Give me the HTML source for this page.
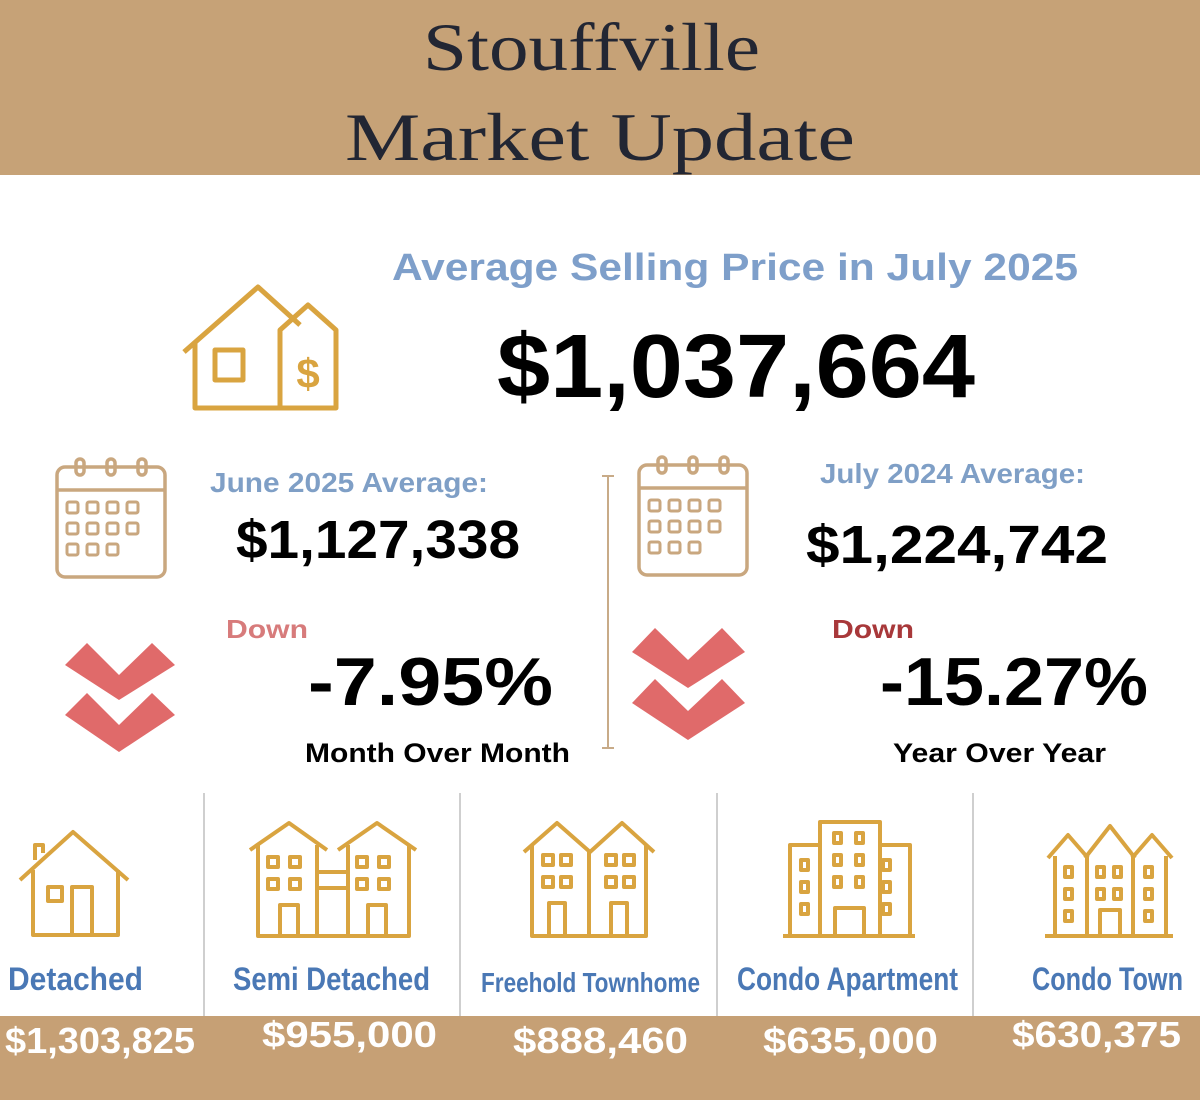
<!DOCTYPE html>
<html><head><meta charset="utf-8"><style>html,body{margin:0;padding:0;background:#fff}svg{display:block}</style></head>
<body>
<svg width="1200" height="1100" viewBox="0 0 1200 1100" xmlns="http://www.w3.org/2000/svg">
<rect width="1200" height="1100" fill="#fff"/>
<rect width="1200" height="175" fill="#c6a277"/>
<rect y="1016" width="1200" height="84" fill="#c6a075"/>
<g font-family="Liberation Serif, serif" fill="#222633" font-size="68">
<text x="423" y="70" textLength="337" lengthAdjust="spacingAndGlyphs">Stouffville</text>
<text x="345" y="160" textLength="510" lengthAdjust="spacingAndGlyphs">Market Update</text>
</g>
<g font-family="Liberation Sans, sans-serif" font-weight="bold">
<text x="392" y="280" font-size="38" fill="#7e9fca" textLength="686" lengthAdjust="spacingAndGlyphs">Average Selling Price in July 2025</text>
<text x="497" y="397" font-size="90" fill="#000" textLength="478" lengthAdjust="spacingAndGlyphs">$1,037,664</text>
<text x="210" y="492" font-size="28" fill="#7f9fc6" textLength="278" lengthAdjust="spacingAndGlyphs">June 2025 Average:</text>
<text x="236" y="558" font-size="54" fill="#000" textLength="284" lengthAdjust="spacingAndGlyphs">$1,127,338</text>
<text x="820" y="483" font-size="28" fill="#7f9fc6" textLength="265" lengthAdjust="spacingAndGlyphs">July 2024 Average:</text>
<text x="806" y="563" font-size="54" fill="#000" textLength="302" lengthAdjust="spacingAndGlyphs">$1,224,742</text>
<text x="226" y="638" font-size="26" fill="#d77b7b" textLength="82" lengthAdjust="spacingAndGlyphs">Down</text>
<text x="832" y="638" font-size="26" fill="#a8383a" textLength="82" lengthAdjust="spacingAndGlyphs">Down</text>
<text x="308" y="705" font-size="68" fill="#000" textLength="245" lengthAdjust="spacingAndGlyphs">-7.95%</text>
<text x="880" y="705" font-size="68" fill="#000" textLength="268" lengthAdjust="spacingAndGlyphs">-15.27%</text>
<text x="305" y="762" font-size="27" fill="#000" textLength="265" lengthAdjust="spacingAndGlyphs">Month Over Month</text>
<text x="893" y="762" font-size="27" fill="#000" textLength="213" lengthAdjust="spacingAndGlyphs">Year Over Year</text>
<g font-size="32" fill="#4a78b5">
<text x="8" y="990" textLength="135" lengthAdjust="spacingAndGlyphs">Detached</text>
<text x="233" y="990" textLength="197" lengthAdjust="spacingAndGlyphs">Semi Detached</text>
<text x="481" y="992" font-size="28" textLength="219" lengthAdjust="spacingAndGlyphs">Freehold Townhome</text>
<text x="737" y="990" textLength="221" lengthAdjust="spacingAndGlyphs">Condo Apartment</text>
<text x="1032" y="990" textLength="151" lengthAdjust="spacingAndGlyphs">Condo Town</text>
</g>
<g font-size="36" fill="#fff">
<text x="5" y="1053" textLength="190" lengthAdjust="spacingAndGlyphs">$1,303,825</text>
<text x="262" y="1047" textLength="175" lengthAdjust="spacingAndGlyphs">$955,000</text>
<text x="513" y="1053" textLength="175" lengthAdjust="spacingAndGlyphs">$888,460</text>
<text x="763" y="1053" textLength="175" lengthAdjust="spacingAndGlyphs">$635,000</text>
<text x="1012" y="1047" textLength="169" lengthAdjust="spacingAndGlyphs">$630,375</text>
</g>
</g>
<!-- divider center -->
<g stroke="#c8ab88" stroke-width="2"><line x1="608" y1="476" x2="608" y2="748"/><line x1="602" y1="476" x2="614" y2="476"/><line x1="602" y1="748" x2="614" y2="748"/></g>
<g stroke="#cfcfcf" stroke-width="2"><line x1="204" y1="793" x2="204" y2="1016"/><line x1="460" y1="793" x2="460" y2="1016"/><line x1="717" y1="793" x2="717" y2="1016"/><line x1="973" y1="793" x2="973" y2="1016"/></g>
<!-- big house -->
<g fill="none" stroke="#d9a440" stroke-width="5" stroke-linejoin="round">
<path d="M184 352 L258 287 L300 325"/><path d="M195 342 V408 H280"/>
<rect x="215" y="350" width="28" height="30"/>
<path d="M280 408 V330 L308 305 L336 330 V408 Z"/>
</g>
<text x="308" y="388" font-family="Liberation Sans, sans-serif" font-weight="bold" font-size="42" fill="#d9a440" text-anchor="middle">$</text>
<!-- calendars -->
<g fill="none" stroke="#c9a77f" stroke-width="3.5">
<g id="cal">
<rect x="57" y="467" width="108" height="110" rx="8"/><line x1="57" y1="490" x2="165" y2="490"/>
<rect x="76" y="459" width="8" height="16" rx="4"/><rect x="107" y="459" width="8" height="16" rx="4"/><rect x="138" y="459" width="8" height="16" rx="4"/>
<g stroke-width="3"><rect x="67" y="502" width="11" height="11" rx="2"/><rect x="87" y="502" width="11" height="11" rx="2"/><rect x="107" y="502" width="11" height="11" rx="2"/><rect x="127" y="502" width="11" height="11" rx="2"/>
<rect x="67" y="523" width="11" height="11" rx="2"/><rect x="87" y="523" width="11" height="11" rx="2"/><rect x="107" y="523" width="11" height="11" rx="2"/><rect x="127" y="523" width="11" height="11" rx="2"/>
<rect x="67" y="544" width="11" height="11" rx="2"/><rect x="87" y="544" width="11" height="11" rx="2"/><rect x="107" y="544" width="11" height="11" rx="2"/></g>
</g>
<use href="#cal" transform="translate(582,-2)"/>
</g>
<!-- arrows -->
<g fill="#e06a6a">
<path d="M65 665 L87 643 L119 675 L152 643 L175 665 L119 700 Z"/>
<path d="M65 715 L87 693 L119 725 L152 693 L175 715 L119 752 Z"/>
<path d="M632 652 L655 628 L688 660 L722 628 L745 652 L688 688 Z"/>
<path d="M632 703 L655 679 L688 711 L722 679 L745 703 L688 740 Z"/>
</g>
<!-- bottom icons -->
<g fill="none" stroke="#d9a440" stroke-width="4" stroke-linejoin="round">
<path d="M20 880 L73 832 L128 880"/><path d="M33 870 V935 H118 V870"/><rect x="48" y="887" width="14" height="14"/><rect x="72" y="887" width="20" height="48"/><path d="M35 860 V845 H43 V853"/>
<path d="M250 850 L289 823 L327 850"/><path d="M338 850 L377 823 L416 850"/>
<path d="M258 845 V936 H409 V845"/><line x1="317" y1="845" x2="317" y2="936"/><line x1="348" y1="845" x2="348" y2="936"/><line x1="317" y1="872" x2="348" y2="872"/><line x1="317" y1="888" x2="348" y2="888"/>
<rect x="268" y="857" width="10" height="10"/><rect x="290" y="857" width="10" height="10"/><rect x="268" y="879" width="10" height="10"/><rect x="290" y="879" width="10" height="10"/><rect x="280" y="905" width="18" height="31"/>
<rect x="357" y="857" width="10" height="10"/><rect x="379" y="857" width="10" height="10"/><rect x="357" y="879" width="10" height="10"/><rect x="379" y="879" width="10" height="10"/><rect x="368" y="905" width="18" height="31"/>
<path d="M524 852 L557 823 L590 852 L622 823 L654 852"/><path d="M532 845 V936 H646 V845"/><line x1="589" y1="852" x2="589" y2="936"/>
<rect x="543" y="855" width="10" height="10"/><rect x="561" y="855" width="10" height="10"/><rect x="543" y="877" width="10" height="10"/><rect x="561" y="877" width="10" height="10"/><rect x="549" y="903" width="16" height="33"/>
<rect x="606" y="855" width="10" height="10"/><rect x="624" y="855" width="10" height="10"/><rect x="606" y="877" width="10" height="10"/><rect x="624" y="877" width="10" height="10"/><rect x="611" y="903" width="16" height="33"/>
<line x1="783" y1="936" x2="915" y2="936"/><rect x="790" y="845" width="30" height="91"/><rect x="820" y="822" width="60" height="114"/><rect x="880" y="845" width="30" height="91"/>
<rect x="801" y="860" width="7" height="10"/><rect x="801" y="882" width="7" height="10"/><rect x="801" y="904" width="7" height="10"/>
<rect x="883" y="860" width="7" height="10"/><rect x="883" y="882" width="7" height="10"/><rect x="883" y="904" width="7" height="10"/>
<rect x="834" y="833" width="7" height="10"/><rect x="856" y="833" width="7" height="10"/><rect x="834" y="855" width="7" height="10"/><rect x="856" y="855" width="7" height="10"/><rect x="834" y="877" width="7" height="10"/><rect x="856" y="877" width="7" height="10"/>
<path d="M835 936 V908 H864 V936"/>
<line x1="1045" y1="936" x2="1173" y2="936"/>
<path d="M1048 858 L1068 835 L1088 858"/><path d="M1085 858 L1110 826 L1135 858"/><path d="M1132 858 L1152 835 L1172 858"/>
<path d="M1055 856 V936"/><path d="M1087 856 V936"/><path d="M1133 856 V936"/><path d="M1166 856 V936"/>
<rect x="1065" y="867" width="7" height="10"/><rect x="1065" y="889" width="7" height="10"/><rect x="1065" y="911" width="7" height="10"/>
<rect x="1097" y="867" width="7" height="10"/><rect x="1114" y="867" width="7" height="10"/><rect x="1097" y="889" width="7" height="10"/><rect x="1114" y="889" width="7" height="10"/>
<rect x="1145" y="867" width="7" height="10"/><rect x="1145" y="889" width="7" height="10"/><rect x="1145" y="911" width="7" height="10"/>
<path d="M1100 936 V910 H1120 V936"/>
</g>
</svg>
</body></html>
